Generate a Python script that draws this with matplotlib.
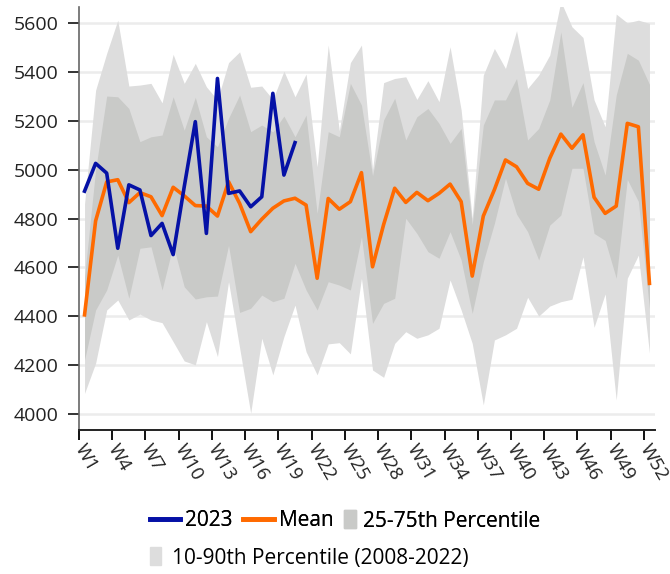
import numpy as np
import matplotlib
matplotlib.use("Agg")
import matplotlib.pyplot as plt
from matplotlib.patches import Rectangle
from matplotlib.lines import Line2D

plt.rcParams['font.family'] = ['Open Sans', 'DejaVu Sans']

# weekly values
weeks = [f"W{i}" for i in range(1, 53)]

y2023 = [4912, 5026, 4986, 4678, 4938, 4917, 4730, 4780, 4652, 4930,
         5197, 4739, 5374, 4903, 4913, 4848, 4889, 5313, 4978, 5111]

mean = [4405, 4790, 4950, 4959, 4865, 4906, 4889, 4812, 4928, 4893,
        4853, 4851, 4810, 4951, 4862, 4746, 4797, 4842, 4872, 4883,
        4855, 4555, 4882, 4838, 4869, 4988, 4602, 4775, 4924, 4866,
        4907, 4873, 4903, 4941, 4869, 4564, 4810, 4918, 5040, 5012,
        4944, 4920, 5047, 5146, 5088, 5143, 4887, 4821, 4851, 5190,
        5176, 4534]

p90 = [4860, 5326, 5477, 5613, 5343, 5347, 5354, 5274, 5473, 5354,
       5436, 5340, 5286, 5439, 5483, 5338, 5343, 5288, 5404, 5299,
       5392, 5012, 5511, 5160, 5439, 5511, 5000, 5357, 5374, 5381,
       5288, 5365, 5279, 5504, 5245, 4800, 5388, 5497, 5415, 5570,
       5333, 5388, 5470, 5690, 5586, 5542, 5286, 5176, 5638, 5602,
       5613, 5600]

p75 = [4560, 5000, 5302, 5299, 5251, 5115, 5135, 5142, 5299, 5162,
       5297, 5135, 5094, 5211, 5306, 5156, 5183, 5155, 5220, 5135,
       5224, 4821, 5156, 5135, 5354, 5265, 4975, 5204, 5293, 5122,
       5217, 5251, 5190, 5108, 5169, 4775, 5183, 5286, 5286, 5374,
       5122, 5169, 5286, 5565, 5256, 5357, 5115, 4978, 5306, 5477,
       5449, 5350]

p25 = [4220, 4425, 4507, 4650, 4473, 4678, 4684, 4507, 4691, 4520,
       4470, 4479, 4482, 4690, 4415, 4432, 4486, 4459, 4473, 4616,
       4507, 4425, 4541, 4527, 4507, 4725, 4370, 4452, 4473, 4801,
       4739, 4664, 4637, 4746, 4630, 4411, 4623, 4780, 4965, 4818,
       4746, 4630, 4773, 4814, 5006, 5006, 4739, 4710, 4555, 4960,
       4870, 4430]

p10 = [4083, 4207, 4425, 4466, 4384, 4408, 4384, 4373, 4295, 4216,
       4200, 4377, 4234, 4541, 4270, 4002, 4309, 4159, 4316, 4445,
       4254, 4159, 4286, 4291, 4245, 4555, 4179, 4149, 4288, 4336,
       4309, 4323, 4350, 4548, 4425, 4288, 4036, 4302, 4323, 4350,
       4477, 4400, 4441, 4459, 4469, 4643, 4354, 4491, 4056, 4555,
       4650, 4248]

c_blue = '#0511a6'
c_orange = '#ff6a00'
c_dark = '#c9cac8'
c_light = '#dddddd'

W, H = 670, 574
x = np.arange(len(weeks)) + 0.5

fig = plt.figure(figsize=(W / 100, H / 100), dpi=100)
ax = fig.add_axes([79 / W, 1 - 430 / H, 576 / W, 423 / H])

ax.fill_between(x, p10, p90, color=c_light, lw=0, zorder=1)
ax.fill_between(x, p25, p75, color=c_dark, lw=0, zorder=2)
ax.plot(x, mean, color=c_orange, lw=2.6, zorder=4)
ax.plot(x[:len(y2023)], y2023, color=c_blue, lw=2.6, zorder=5)

ax.set_xlim(0, 52)
ax.set_ylim(3933, 5667)
ax.set_yticks(range(4000, 5601, 200))
ax.yaxis.grid(True, color='#ececec', lw=1.8, zorder=0)
ax.set_axisbelow(True)

ax.set_xticks(np.arange(0, 52, 3))
ax.set_xticklabels(weeks[::3], rotation=-60, ha='left', va='center',
                   rotation_mode='anchor')

for s in ['top', 'right']:
    ax.spines[s].set_visible(False)
ax.spines['left'].set_color('#666666')
ax.spines['bottom'].set_color('#222222')
ax.spines['left'].set_linewidth(1.2)
ax.spines['bottom'].set_linewidth(1.4)
ax.tick_params(axis='y', length=8, width=1.4, color='#333333',
               labelsize=14, labelcolor='#222222', pad=7)
ax.tick_params(axis='x', length=7.5, width=1.4, color='#111111',
               labelsize=13.5, labelcolor='#222222', pad=4)

leg_kw = dict(frameon=False, fontsize=15, borderpad=0, borderaxespad=0,
              loc='center left')

# row 1: line entries
h_lines = [Line2D([], [], color=c_blue, lw=3.4),
           Line2D([], [], color=c_orange, lw=3.4)]
leg_a = fig.legend(h_lines, ['2023', 'Mean'], ncol=2,
                   bbox_to_anchor=(150 / W, 1 - 521 / H),
                   handlelength=1.45, handletextpad=0.25,
                   columnspacing=0.5, **leg_kw)
fig.add_artist(leg_a)

# row 1: interquartile patch
leg_b = fig.legend([Rectangle((0, 0), 1, 1, color=c_dark)],
                   ['25-75th Percentile'],
                   bbox_to_anchor=(344 / W, 1 - 521 / H),
                   handlelength=0.58, handleheight=0.95,
                   handletextpad=0.35, **leg_kw)
fig.add_artist(leg_b)

# row 2: 10-90 patch
fig.legend([Rectangle((0, 0), 1, 1, color=c_light)],
           ['10-90th Percentile (2008-2022)'],
           bbox_to_anchor=(150 / W, 1 - 558 / H),
           handlelength=0.55, handleheight=0.95,
           handletextpad=0.5, **leg_kw)

fig.savefig('out.png', dpi=100)
